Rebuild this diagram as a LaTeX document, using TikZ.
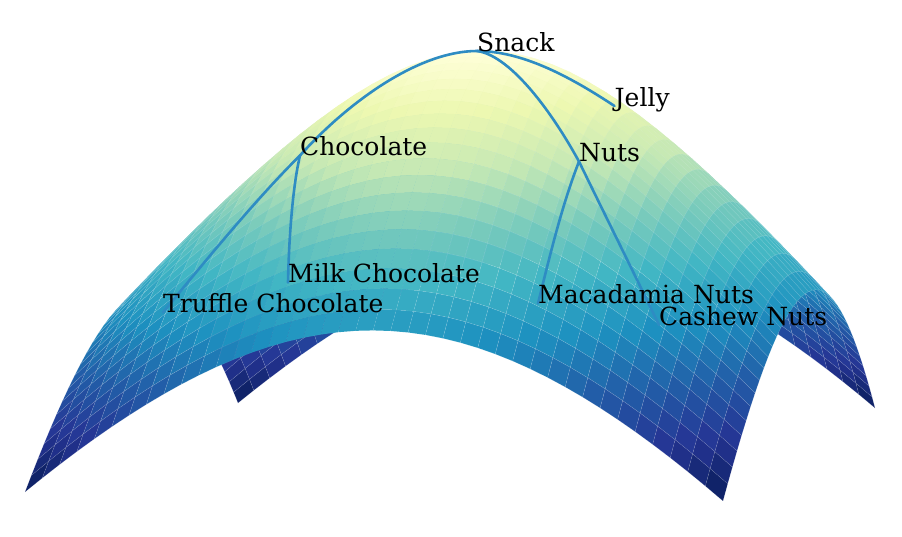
\documentclass[tikz,border=0pt]{standalone}
\usepackage{fontspec}
\setmainfont{DejaVu Serif}
\definecolor{cm0}{HTML}{FFFFD9}
\definecolor{cm1}{HTML}{EDF8B1}
\definecolor{cm2}{HTML}{C7E9B4}
\definecolor{cm3}{HTML}{7FCDBB}
\definecolor{cm4}{HTML}{41B6C4}
\definecolor{cm5}{HTML}{1D91C0}
\definecolor{cm6}{HTML}{225EA8}
\definecolor{cm7}{HTML}{253494}
\definecolor{cm8}{HTML}{081D58}
\definecolor{cm9}{HTML}{081D58}
\definecolor{branchcol}{RGB}{46,140,195}
\tikzset{
  label text/.style={anchor=base west,inner sep=0pt,font=\fontsize{25}{27}\selectfont,text=black},
  branch/.style={draw=branchcol,line width=2.6pt,line cap=round},
  facet/.style={draw=white,line width=0.35pt}
}
\begin{document}
\begin{tikzpicture}[x=1pt,y=-1pt]
\useasboundingbox (0,0) rectangle (902,536);
\fill[white] (0,0) rectangle (902,536);
% vertices of the surface
\foreach \i in {0,...,40}{
  \foreach \j in {0,...,40}{
    \pgfmathsetmacro\gx{\i/40}
    \pgfmathsetmacro\gy{\j/40}
    \pgfmathsetmacro\ru{2*\gx-1}
    \pgfmathsetmacro\rv{2*\gy-1}
    \pgfmathsetmacro\zz{sqrt(1+2.7*(\ru*\ru+\rv*\rv))}
    \pgfmathsetmacro\hh{411*(2.5298-\zz)/1.5298}
    \pgfmathsetmacro\ww{1-0.03738*\gx+0.10468*\gy}
    \pgfmathsetmacro\sx{(670.97*\gx+237.91*\gy+25+0.035*\hh)/\ww}
    \pgfmathsetmacro\sy{(-9.73*\gx-46.81*\gy+492-\hh)/\ww}
    \expandafter\xdef\csname vx\i-\j\endcsname{\sx}
    \expandafter\xdef\csname vy\i-\j\endcsname{\sy}
  }
}
% facets, back row first
\foreach \jj in {39,...,0}{
  \foreach \i in {0,...,39}{
    \edef\ip{\the\numexpr\i+1\relax}
    \edef\jp{\the\numexpr\jj+1\relax}
    \pgfmathsetmacro\ru{2*(\i+0.5)/40-1}
    \pgfmathsetmacro\rv{2*(\jj+0.5)/40-1}
    \pgfmathsetmacro\tt{8*(sqrt(1+2.7*(\ru*\ru+\rv*\rv))-1)/1.5298}
    \pgfmathtruncatemacro\ka{floor(\tt)}
    \pgfmathtruncatemacro\kb{\ka+1}
    \pgfmathsetmacro\pc{100*(\tt-\ka)}
    \colorlet{qc}{cm\kb!\pc!cm\ka}
    % seams show where nothing lies behind the sheet: the two flanks
    \pgfmathsetmacro\sl{max(0,min(1,(-0.35-\ru)/0.2))}
    \pgfmathsetmacro\sr{max(0,min(1,\ru/0.2))}
    \pgfmathsetmacro\sa{(0.05+0.16*max(\sl,\sr))*min(1,\tt/4)}
    \edef\q{\noexpand\filldraw[fill=qc,facet,draw opacity=\sa]
      (\csname vx\i-\jj\endcsname,\csname vy\i-\jj\endcsname) --
      (\csname vx\ip-\jj\endcsname,\csname vy\ip-\jj\endcsname) --
      (\csname vx\ip-\jp\endcsname,\csname vy\ip-\jp\endcsname) --
      (\csname vx\i-\jp\endcsname,\csname vy\i-\jp\endcsname) -- cycle;}
    \q
  }
}
% anchors of the labels
\coordinate (snack) at (477,51);
\coordinate (jelly) at (614.5,106);
\coordinate (choc) at (300,155.5);
\coordinate (nuts) at (579,161.5);
\coordinate (milk) at (288,282.5);
\coordinate (truffle) at (163,312.5);
\coordinate (maca) at (538,303.5);
\coordinate (cashew) at (659,325);
% connectors
\draw[branch] (snack) .. controls (525,51) and (575,80) .. (jelly);
\draw[branch] (snack) .. controls (508,55) and (548,105) .. (nuts);
\draw[branch] (nuts) .. controls (605,215) and (630,265) .. (cashew);
\draw[branch] (nuts) .. controls (562,205) and (550,255) .. (maca);
\draw[branch] (snack) .. controls (420,51) and (350,100) .. (choc);
\draw[branch] (choc) .. controls (293,185) and (289,235) .. (milk);
\draw[branch] (choc) .. controls (260,195) and (210,255) .. (truffle);
% labels
\node[label text] (lsnack) at (snack) {Snack};
\node[label text] (ljelly) at (jelly) {Jelly};
\node[label text] (lchoc) at (choc) {Chocolate};
\node[label text] (lnuts) at (nuts) {Nuts};
\node[label text] (lmilk) at (milk) {Milk Chocolate};
\node[label text] (ltruffle) at (truffle) {Truffle Chocolate};
\node[label text] (lmaca) at (maca) {Macadamia Nuts};
\node[label text] (lcashew) at (cashew) {Cashew Nuts};
\end{tikzpicture}
\end{document}
